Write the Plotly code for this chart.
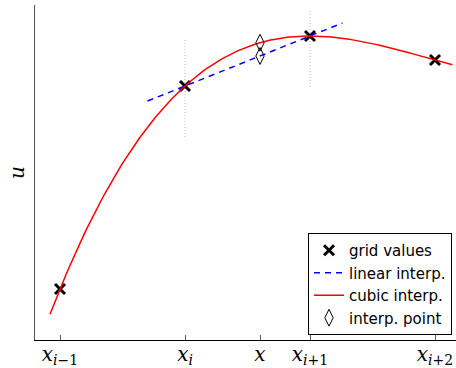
import numpy as np
import plotly.graph_objects as go

# grid nodes (x positions in units of grid spacing) and values
grid_x = [0.0, 1.0, 2.0, 3.0]
grid_u = [0.51, 2.54, 3.04, 2.80]
# interpolation point
x_interp = 1.6
# extent of drawn curves
cubic_span = [-0.08, 3.14]
linear_span = [0.7, 2.26]
# vertical guide lines at x_i and x_{i+1}: (x, u_low, u_high)
guides = [(1.0, 2.03, 3.02), (2.0, 2.53, 3.31)]

tick_vals = [0.0, 1.0, 1.6, 2.0, 3.0]
tick_text = ["<i>x</i><sub><i>i</i>−1</sub>", "<i>x</i><sub><i>i</i></sub>", "<i>x</i>",
             "<i>x</i><sub><i>i</i>+1</sub>", "<i>x</i><sub><i>i</i>+2</sub>"]

# cubic interpolant through the four grid values
coef = np.polyfit(grid_x, grid_u, 3)
xc = np.linspace(cubic_span[0], cubic_span[1], 200)
uc = np.polyval(coef, xc)
# linear interpolant between x_i and x_{i+1}
slope = (grid_u[2] - grid_u[1]) / (grid_x[2] - grid_x[1])
xl = np.array(linear_span)
ul = grid_u[1] + slope * (xl - grid_x[1])
u_cub = float(np.polyval(coef, x_interp))
u_lin = grid_u[1] + slope * (x_interp - grid_x[1])

serif = "DejaVu Serif, Liberation Serif, serif"

fig = go.Figure()
for gx, lo, hi in guides:
    fig.add_trace(go.Scatter(x=[gx, gx], y=[lo, hi], mode="lines",
                             line=dict(color="#b8b8b8", width=1, dash="1px,2px"),
                             showlegend=False, hoverinfo="skip"))
fig.add_trace(go.Scatter(x=grid_x, y=grid_u, mode="markers", name="grid values",
                         marker=dict(symbol="x-thin", size=10, color="black",
                                     line=dict(color="black", width=3))))
fig.add_trace(go.Scatter(x=xl, y=ul, mode="lines", name="linear interp.",
                         line=dict(color="blue", width=1.5, dash="6px,5px")))
fig.add_trace(go.Scatter(x=xc, y=uc, mode="lines", name="cubic interp.",
                         line=dict(color="red", width=1.5)))
fig.add_trace(go.Scatter(x=[x_interp, x_interp], y=[u_cub, u_lin], mode="markers",
                         name="interp. point",
                         marker=dict(symbol="diamond-tall-open", size=12, color="black",
                                     line=dict(color="black", width=1))))

fig.update_layout(
    width=456, height=368,
    margin=dict(l=35, r=0, t=5, b=28),
    paper_bgcolor="white", plot_bgcolor="white",
    font=dict(family="DejaVu Sans, Arial, sans-serif", size=15, color="black"),
    xaxis=dict(range=[-0.2, 3.168], tickvals=tick_vals, ticktext=tick_text,
               ticks="inside", ticklen=5, tickcolor="#555", showgrid=False,
               zeroline=False, showline=True, linecolor="black", linewidth=1,
               automargin=False, ticklabelstandoff=-4,
               tickfont=dict(family=serif, size=20)),
    yaxis=dict(range=[0, 3.35], showticklabels=False, ticks="", showgrid=False,
               zeroline=False, showline=True, linecolor="#555", linewidth=1,
               automargin=False,
               title=dict(text="<i>u</i>", standoff=4,
                          font=dict(family=serif, size=20))),
    legend=dict(x=0.9905, y=0.015, xanchor="right", yanchor="bottom",
                bgcolor="white", bordercolor="black", borderwidth=1,
                font=dict(size=15), tracegroupgap=0, itemwidth=30),
)
fig.write_html("out.html", post_script="document.body.style.margin='0px';",
               config={"displayModeBar": False})
